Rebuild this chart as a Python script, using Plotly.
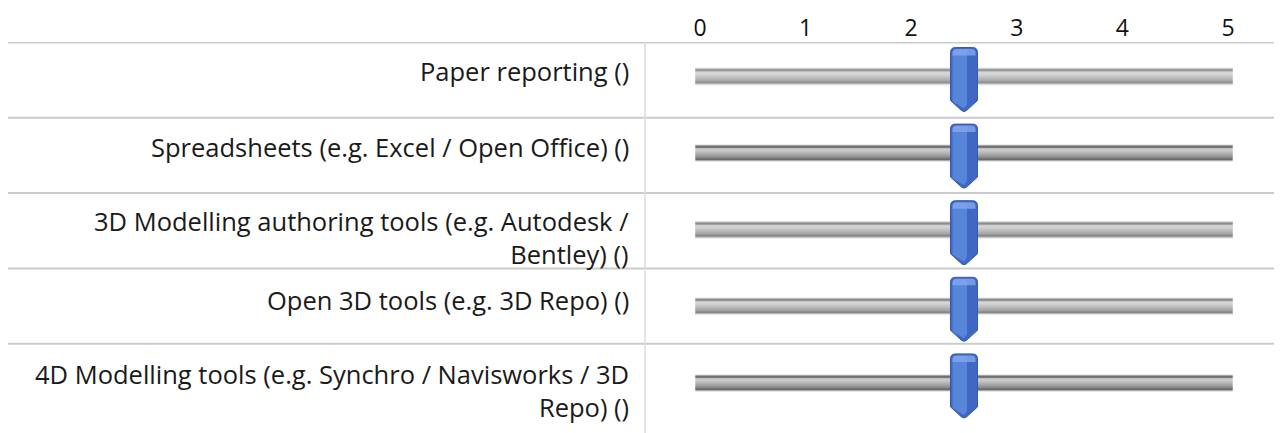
import textwrap
import plotly.graph_objects as go

# ---------------- data ----------------
items = [
    "Paper reporting ()",
    "Spreadsheets (e.g. Excel / Open Office) ()",
    "3D Modelling authoring tools (e.g. Autodesk / Bentley) ()",
    "Open 3D tools (e.g. 3D Repo) ()",
    "4D Modelling tools (e.g. Synchro / Navisworks / 3D Repo) ()",
]
values = [2.5, 2.5, 2.5, 2.5, 2.5]
tick_values = [0, 1, 2, 3, 4, 5]
tick_labels = ["0", "1", "2", "3", "4", "5"]
scale_min, scale_max = 0, 5

# ---------------- layout geometry (page pixels) ----------------
PAGE_W, PAGE_H = 1282, 433
OFF = 8                             # default body margin of the html page
W, H = PAGE_W - OFF, PAGE_H - OFF   # figure size
X0_PX, X1_PX = 700, 1228            # page x of scale_min / scale_max
PPU = (X1_PX - X0_PX) / (scale_max - scale_min)
TOP = 42
SEP_H = 75.3                        # spacing of the row separators
TRACK_H = 76.6                      # spacing of the slider tracks
LABEL_RIGHT_PX = 631
DIVIDER_PX = 645
FONT = "Open Sans"
LABEL_SIZE = 25.5


def px_to_x(px):
    return scale_min + (px - X0_PX) / PPU


def fy(py):
    """page y -> figure y (y axis is in figure pixels, reversed)"""
    return py - OFF


def fx_paper(px):
    return (px - OFF) / W


xrange = [px_to_x(OFF), px_to_x(OFF + W)]
n = len(items)
row_tops = [TOP + SEP_H * i for i in range(n)]
track_centers = [TOP + 34.5 + TRACK_H * i for i in range(n)]

fig = go.Figure()
shapes = []
annotations = []

# grid lines
for t in row_tops:
    shapes.append(dict(type="line", xref="paper", yref="y", x0=fx_paper(7), x1=1,
                       y0=fy(t + 0.5), y1=fy(t + 0.5), line=dict(color="#cbcbcb", width=2),
                       layer="below"))
shapes.append(dict(type="line", xref="paper", yref="y", x0=fx_paper(DIVIDER_PX),
                   x1=fx_paper(DIVIDER_PX), y0=fy(TOP), y1=H,
                   line=dict(color="#dcdcdc", width=1.5), layer="below"))

# track colour profile (top -> bottom, 1px strips)
profile = ["#ececec", "#a4a4a4", "#6f6f6f", "#7a7a7a", "#bdbdbd", "#cbcbcb", "#c8c8c8",
           "#c1c1c1", "#b9b9b9", "#b0b0b0", "#a7a7a7", "#9e9e9e", "#949494", "#8a8a8a",
           "#727272", "#6c6c6c", "#aaaaaa", "#e8e8e8"]
track_x0 = scale_min - 0.045
track_x1 = scale_max + 0.045
for c in track_centers:
    top = fy(c) - len(profile) / 2
    for k, col in enumerate(profile):
        shapes.append(dict(type="rect", xref="x", yref="y", x0=track_x0, x1=track_x1,
                           y0=top + k, y1=top + k + 1, fillcolor=col, line=dict(width=0),
                           layer="above"))

# handles
HALF_W = 13.5 / PPU
R = 5
for v, cc in zip(values, track_centers):
    c = fy(cc)
    xl, xr = v - HALF_W, v + HALF_W
    rx = R / PPU
    ytop, yside, ytip = c - 29, c + 24, c + 35
    path = (f"M {xl},{ytop + R} Q {xl},{ytop} {xl + rx},{ytop} L {xr - rx},{ytop} "
            f"Q {xr},{ytop} {xr},{ytop + R} L {xr},{yside} L {v + rx * 0.5},{ytip - 1} "
            f"Q {v},{ytip + 1} {v - rx * 0.5},{ytip - 1} L {xl},{yside} Z")
    shapes.append(dict(type="path", xref="x", yref="y", path=path, fillcolor="#3f68c2",
                       line=dict(color="#3459ad", width=1), layer="above"))
    il, ir = xl + 2 / PPU, v + 3 / PPU
    hp = (f"M {il},{ytop + R + 1} Q {il},{ytop + 2} {il + rx},{ytop + 2} L {ir},{ytop + 2} "
          f"L {ir},{yside + 4} L {v},{ytip - 3} L {il},{yside + 1} Z")
    shapes.append(dict(type="path", xref="x", yref="y", path=hp, fillcolor="#5785da",
                       line=dict(width=0), layer="above"))
    tp = (f"M {xl + 2 / PPU},{ytop + R} Q {xl + 2 / PPU},{ytop + 1.5} {xl + rx + 1 / PPU},{ytop + 1.5} "
          f"L {xr - rx - 1 / PPU},{ytop + 1.5} Q {xr - 2 / PPU},{ytop + 1.5} {xr - 2 / PPU},{ytop + R} "
          f"L {xr - 2 / PPU},{ytop + 8} L {xl + 2 / PPU},{ytop + 8} Z")
    shapes.append(dict(type="path", xref="x", yref="y", path=tp, fillcolor="#86a6ec",
                       line=dict(width=0), opacity=0.8, layer="above"))

# row labels (wrapped, one annotation per label)
for label, cc in zip(items, track_centers):
    lines = textwrap.wrap(label, width=50)
    yc = cc - 6 if len(lines) == 1 else cc + 8
    annotations.append(dict(xref="paper", yref="y", x=fx_paper(LABEL_RIGHT_PX), y=fy(yc),
                            xanchor="right", yanchor="middle", align="right", showarrow=False,
                            text="<br>".join(lines),
                            font=dict(family=FONT, size=LABEL_SIZE, color="#1a1a1a")))

# invisible trace to anchor the axes
fig.add_trace(go.Scatter(x=values, y=[fy(c) for c in track_centers], mode="markers",
                         marker=dict(opacity=0), hoverinfo="skip", showlegend=False))

fig.update_layout(
    width=W, height=H,
    margin=dict(l=0, r=0, t=fy(TOP), b=0),
    paper_bgcolor="white", plot_bgcolor="white",
    shapes=shapes, annotations=annotations,
    xaxis=dict(range=xrange, side="top", tickvals=tick_values, ticktext=tick_labels,
               showgrid=False, zeroline=False, showline=False, ticks="",
               tickfont=dict(family=FONT, size=23, color="#111111"), fixedrange=True),
    yaxis=dict(range=[H, fy(TOP)], showgrid=False, zeroline=False, showline=False,
               showticklabels=False, fixedrange=True),
)

fig.write_html("out.html")
